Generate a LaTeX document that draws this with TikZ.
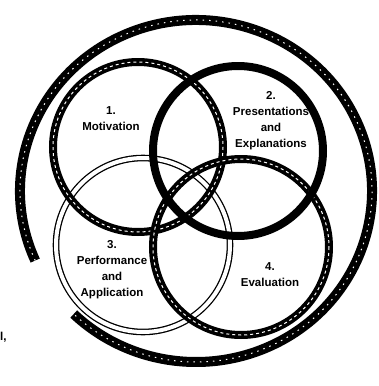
\documentclass[tikz,border=0pt]{standalone}
\usepackage{fontspec}
\setmainfont{Liberation Sans}
\begin{document}
\begin{tikzpicture}[x=1pt,y=-1pt,
  lbl/.style={font=\bfseries\fontsize{11.5}{16}\selectfont, align=center, inner sep=0pt},
  band/.style={line width=8pt, black},
  bandin/.style={line width=1pt, white, dash pattern=on 3pt off 3pt},
  solidring/.style={line width=8pt, black},
  thinring/.style={double=white, double distance=4pt, line width=1.3pt, black},
  outerband/.style={line width=10pt, black},
  outerin/.style={line width=1pt, white, dash pattern=on 1.5pt off 5pt}
]
\useasboundingbox (0,0) rectangle (379,386);
% outer spiral band
\draw[outerband] (196,191) ++(156:176 and 171) arc[start angle=156, end angle=494, x radius=176, y radius=171];
\draw[outerin] (196,191) ++(156:176 and 171) arc[start angle=156, end angle=494, x radius=176, y radius=171];
% circle 3 (thin double)
\draw[thinring] (143,245) circle[radius=87];
% circle 1
\draw[band] (138,147) circle[radius=85];
\draw[bandin] (138,147) circle[radius=85];
% circle 4
\draw[band] (241,247) circle[radius=88];
\draw[bandin] (241,247) circle[radius=88];
% circle 2
\draw[solidring] (238,151) circle[radius=85];
% labels
\node[lbl] (t1) at (111,119) {1.\\Motivation};
\node[lbl] (t2) at (271,121) {2.\\Presentations\\and\\Explanations};
\node[lbl] (t3) at (112,270) {3.\\Performance\\and\\Application};
\node[lbl] (t4) at (270,275) {4.\\Evaluation};
\node[lbl, anchor=west] (stray) at (0,337) {l,};
\end{tikzpicture}
\end{document}
